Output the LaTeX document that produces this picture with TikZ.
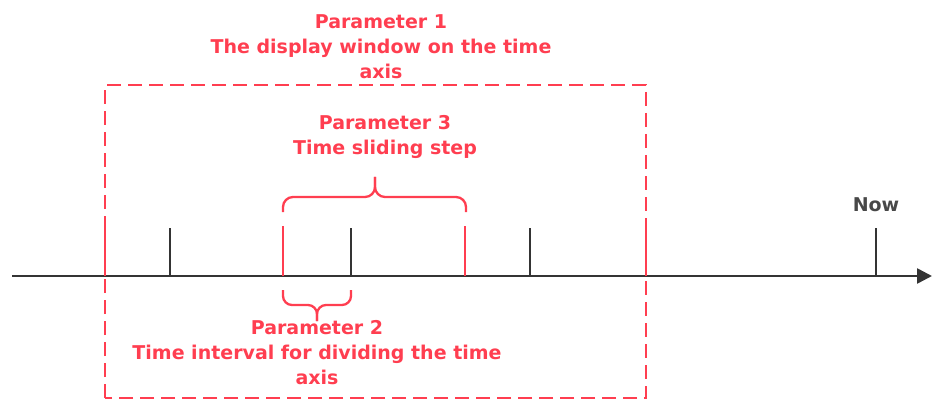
\documentclass[tikz,border=0pt]{standalone}
\usepackage{fontspec}
\setmainfont{DejaVu Sans}
\usetikzlibrary{arrows.meta}
\definecolor{pred}{RGB}{255,62,80}
\definecolor{axisc}{RGB}{52,52,52}
\begin{document}
\begin{tikzpicture}[x=1pt,y=-1pt,
  lbl/.style={text=pred,font=\fontsize{19}{25}\selectfont\bfseries,align=center,inner sep=0pt},
  tickb/.style={draw=axisc,line width=2.3pt},
  tickr/.style={draw=pred,line width=2.3pt},
  brc/.style={draw=pred,line width=2.3pt,rounded corners=10pt},
  winbox/.style={draw=pred,line width=2.4pt,dash pattern=on 14pt off 7pt}]
\useasboundingbox (0,0) rectangle (932,401);
% axis
\coordinate (a0) at (12,276);
\coordinate (a1) at (932,276);
\draw[draw=axisc,line width=2.6pt,-{Triangle[length=15pt,width=15pt]}] (a0) -- (a1);
% window box
\draw[winbox] (105,398) -- (105,85) -- (646,85) -- (646,398) -- cycle;
% black ticks
\foreach \x/\n in {170/t1,351/t2,530/t3,876/tn}{
  \coordinate (\n) at (\x,276);
  \draw[tickb] (\n) -- ++(0,-48);
}
% red ticks
\foreach \x/\n in {105/r0,283/r1,465/r2,646/r3}{
  \coordinate (\n) at (\x,276);
  \draw[tickr] (\n) -- ++(0,-50);
}
% top brace
\draw[brc] (283,212) -- (283,197) -- (375,197) -- (375,177);
\draw[brc] (466,212) -- (466,197) -- (375,197) -- (375,177);
% bottom brace
\draw[brc,rounded corners=9pt] (283,290) -- (283,305) -- (317,305) -- (317,321);
\draw[brc,rounded corners=9pt] (351,290) -- (351,305) -- (317,305) -- (317,321);
% labels
\node[lbl] (p1) at (381,47) {Parameter 1\\The display window on the time\\axis};
\node[lbl] (p3) at (385,137) {Parameter 3\\Time sliding step};
\node[lbl] (p2) at (317,353) {Parameter 2\\Time interval for dividing the time\\axis};
\node[lbl,text=axisc!90!white] (now) at (876,205) {Now};
\end{tikzpicture}
\end{document}
